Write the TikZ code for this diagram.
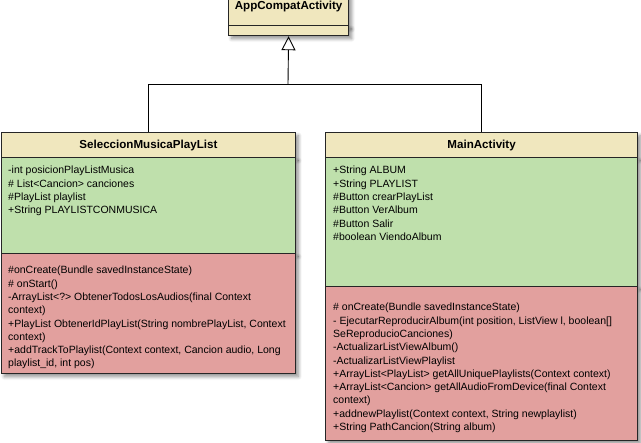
\documentclass[tikz,border=0pt]{standalone}
\usepackage{fontspec}
\setmainfont{Liberation Sans}
\usepackage{tikz}
\usetikzlibrary{positioning,arrows.meta,shadows.blur}

\definecolor{umlhead}{RGB}{240,231,190}
\definecolor{umlattr}{RGB}{191,224,172}
\definecolor{umlmeth}{RGB}{226,160,158}

\begin{document}
\begin{tikzpicture}[x=1pt,y=-1pt,
   compart/.style={rectangle,draw=black!85,line width=1.2pt,anchor=north west,
    inner sep=0pt,blur shadow={shadow xshift=3pt,shadow yshift=-3pt,
    shadow blur radius=3.5pt,shadow blur steps=8,shadow opacity=45}},
   head/.style={compart,fill=umlhead,font=\fontsize{11.6}{13.3}\selectfont\bfseries},
   attrs/.style={compart,fill=umlattr},
   meths/.style={compart,fill=umlmeth},
   txt/.style={anchor=north west,align=left,inner sep=0pt,
    font=\fontsize{10.5}{13.3}\selectfont}
    ]
  \useasboundingbox (0,0) rectangle (641,443);

  % -- superclass
  \node[head,minimum width=120pt,minimum height=40pt] at (228,-14) (appHead) {AppCompatActivity};
  \node[attrs,fill=umlhead,minimum width=120pt,minimum height=10pt] at (228,25) (appBody) {};

  % -- SeleccionMusicaPlayList
  \node[head,minimum width=294pt,minimum height=25pt] at (0.8,132) (selHead) {SeleccionMusicaPlayList};
  \node[attrs,minimum width=294pt,minimum height=96pt] at (0.8,157) (selAttr) {};
  \node[meths,minimum width=294pt,minimum height=120pt] at (0.8,253) (selMeth) {};
  \node[txt,below right=9pt and 7.2pt of selAttr.north west] (selAttrTxt) {-int posicionPlayListMusica\\
    \# List<Cancion> canciones\\
    \#PlayList playlist\\
    +String PLAYLISTCONMUSICA};
  \node[txt,below right=13pt and 7.2pt of selMeth.north west] (selMethTxt) {\#onCreate(Bundle savedInstanceState)\\
    \# onStart()\\
    -ArrayList<?> ObtenerTodosLosAudios(final Context\\
    context)\\
    +PlayList ObtenerIdPlayList(String nombrePlayList, Context\\
    context)\\
    +addTrackToPlaylist(Context context, Cancion audio, Long\\
    playlist\_id, int pos)};

  % -- MainActivity
  \node[head,minimum width=312pt,minimum height=25pt] at (325,132) (mainHead) {MainActivity};
  \node[attrs,minimum width=312pt,minimum height=129pt] at (325,157) (mainAttr) {};
  \node[meths,minimum width=312pt,minimum height=154pt] at (325,286) (mainMeth) {};
  \node[txt,below right=9pt and 8pt of mainAttr.north west] (mainAttrTxt) {+String ALBUM\\
    +String PLAYLIST\\
    \#Button crearPlayList\\
    \#Button VerAlbum\\
    \#Button Salir\\
    \#boolean ViendoAlbum};
  \node[txt,below right=17pt and 8pt of mainMeth.north west] (mainMethTxt) {\# onCreate(Bundle savedInstanceState)\\
    - EjecutarReproducirAlbum(int position, ListView l, boolean[]\\
    SeReproducioCanciones)\\
    -ActualizarListViewAlbum()\\
    -ActualizarListViewPlaylist\\
    +ArrayList<PlayList> getAllUniquePlaylists(Context context)\\
    +ArrayList<Cancion> getAllAudioFromDevice(final Context\\
    context)\\
    +addnewPlaylist(Context context, String newplaylist)\\
    +String PathCancion(String album)};

  % -- inheritance
  \coordinate (fork) at (288,84);
  \draw[line width=0.9pt] (selHead.north) |- (fork);
  \draw[line width=0.9pt] (mainHead.north) |- (fork);
  \draw[line width=0.9pt,-{Triangle[open,width=14pt,length=14pt]}] (fork) -- (appBody.south);

\end{tikzpicture}
\end{document}
